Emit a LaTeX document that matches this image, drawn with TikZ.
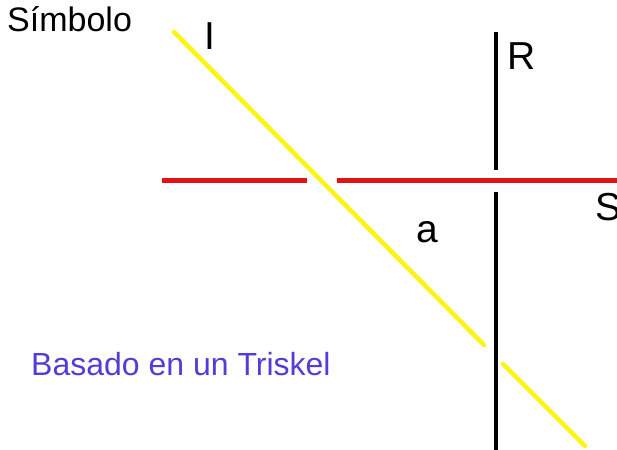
\documentclass[tikz,border=0pt]{standalone}
\usepackage{fontspec}
\setmainfont{Liberation Sans}
\definecolor{lyellow}{RGB}{250,245,20}
\definecolor{lred}{RGB}{225,20,20}
\definecolor{ltext}{RGB}{85,60,215}
\begin{document}
\begin{tikzpicture}[x=1pt,y=-1pt,
  lbl/.style={anchor=base west,inner sep=0pt,font=\fontsize{39}{39}\selectfont},
  yline/.style={draw=lyellow,line width=4.5pt,line cap=round},
  rline/.style={draw=lred,line width=5pt},
  kline/.style={draw=black,line width=4.5pt}]
\useasboundingbox[fill=white] (0,0) rectangle (617,449);
% yellow line
\coordinate (y1) at (174,32);
\coordinate (y2) at (484,345);
\coordinate (y3) at (503,364);
\coordinate (y4) at (585,446);
\draw[yline] (y1) -- (y2);
\draw[yline] (y3) -- (y4);
% red line
\coordinate (r1) at (162,180);
\coordinate (r2) at (307,180);
\coordinate (r3) at (337,180);
\coordinate (r4) at (620,180);
\draw[rline] (r1) -- (r2);
\draw[rline] (r3) -- (r4);
% black line
\coordinate (k1) at (496,32);
\coordinate (k2) at (496,170);
\coordinate (k3) at (496,192);
\coordinate (k4) at (496,452);
\draw[kline] (k1) -- (k2);
\draw[kline] (k3) -- (k4);
% labels
\node[lbl] (tI) at (204,50) {I};
\node[lbl] (tR) at (507,70) {R};
\node[lbl] (tS) at (595,220) {S};
\node[lbl] (ta) at (416,242) {a};
\node[anchor=base west,inner sep=0pt,font=\fontsize{34}{34}\selectfont] (tsym) at (7,32) {Símbolo};
\node[anchor=base west,inner sep=0pt,font=\fontsize{32}{32}\selectfont,text=ltext] (tbas) at (31,375) {Basado en un Triskel};
\end{tikzpicture}
\end{document}
